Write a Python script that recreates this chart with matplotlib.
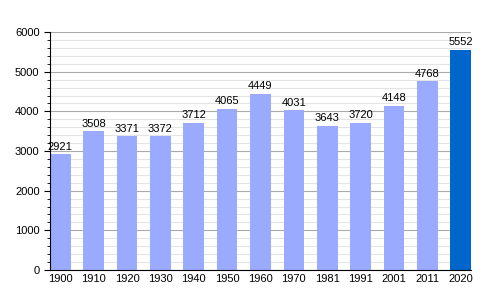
import matplotlib.pyplot as plt
import numpy as np

plt.rcParams['font.family'] = ['Liberation Sans', 'DejaVu Sans']

# data
years = ['1900', '1910', '1920', '1930', '1940', '1950', '1960',
         '1970', '1981', '1991', '2001', '2011', '2020']
population = [2921, 3508, 3371, 3372, 3712, 4065, 4449,
              4031, 3643, 3720, 4148, 4768, 5552]

colors = ['#99aaff'] * (len(years) - 1) + ['#0066cc']

fig = plt.figure(figsize=(5, 3), dpi=100)
ax = fig.add_axes([0.1, 0.1, 0.842, 0.793])

x = np.arange(len(years))
w = 0.62
bars = ax.bar(x, population, width=w, color=colors, zorder=3)

for bar, v in zip(bars, population):
    ax.text(bar.get_x() + bar.get_width() / 2, v + 60, str(v),
            ha='center', va='bottom', fontsize=8, zorder=4)

ax.set_xlim(-w / 2, len(years) - 1 + w / 2)
ax.set_ylim(0, 6000)
ax.set_yticks(np.arange(0, 6001, 1000))
ax.set_yticks(np.arange(0, 6001, 200), minor=True)
ax.set_xticks(x)
ax.set_xticklabels(years)
ax.tick_params(axis='x', length=0, labelsize=8, pad=3)
ax.tick_params(axis='y', which='major', length=4, labelsize=8, direction='out')
ax.tick_params(axis='y', which='minor', length=2, direction='out')

ax.grid(axis='y', which='major', color='#aaaaaa', linewidth=0.8, zorder=0)
ax.grid(axis='y', which='minor', color='#e4e4e4', linewidth=0.8, zorder=0)

for s in ['top', 'right']:
    ax.spines[s].set_visible(False)
ax.spines['left'].set_zorder(5)
ax.spines['bottom'].set_zorder(5)

fig.savefig('out.png', dpi=100)
